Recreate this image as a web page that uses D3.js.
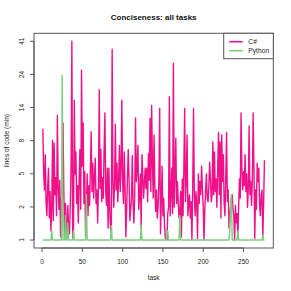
<!DOCTYPE html>
<html>
<head>
<meta charset="utf-8">
<script src="https://cdn.jsdelivr.net/npm/d3@7"></script>
<style>
  body { margin: 0; background: #fff; }
  svg { display: block; font-family: "Liberation Sans", Arial, sans-serif; }
</style>
</head>
<body>
<svg id="mainsvg" width="291" height="291"></svg>
<script>
// lines of code (min) per task
const csharp = [
  10, 4.5, 3.3, 6.4, 2.5, 1.9, 3.5, 5, 1.8, 3.2,
  1.3, 2.2, 8.2, 1.7, 7.8, 3, 4.2, 1.9, 12.5, 3.5,
  2.2, 4, 1.1, 2.8, 1.5, 11, 3.2, 1.2, 2.5, 1.6,
  1.1, 2.4, 1.3, 1.2, 2.3, 5, 41, 1.05, 1.2, 16,
  4.5, 6.7, 2.5, 3.6, 1.6, 4, 7, 2.2, 26, 5.2,
  11, 2.5, 4.7, 1.1, 2.2, 4.5, 1.9, 3.6, 2.4, 5,
  9.5, 3.2, 5.5, 2.8, 4.2, 6, 2.5, 3.3, 1.6, 3.5,
  19, 3.4, 7, 2.6, 4.2, 2.8, 7, 13, 3.2, 2.4,
  5, 1.4, 5, 2.2, 1.4, 1.2, 36, 4, 2.3, 3.8,
  10.8, 3.3, 5.5, 2.6, 4, 7.5, 3.2, 5, 16, 4,
  2.5, 6.7, 3.5, 1.1, 2.2, 4.3, 7, 3.9, 1.7, 2.2,
  2.8, 6.3, 2.4, 1.6, 3, 12, 3.9, 5.2, 7.5, 2.2,
  3, 4.5, 1.4, 6.4, 4.5, 2.8, 3.8, 5, 3.4, 5,
  2.6, 6.5, 4, 11.9, 3.2, 14.7, 5.5, 2.8, 9, 3.5,
  2.1, 3.3, 1.8, 2.3, 4, 14, 1.2, 2.6, 5.2, 1.9,
  2.8, 1.5, 1.05, 1.1, 1, 2, 2.3, 17, 1.9, 3,
  5, 2, 29, 2.3, 4.5, 8.5, 2.5, 3.9, 2.6, 1.8,
  1.9, 3.2, 1.1, 4.1, 1.9, 5, 14, 2.6, 4, 9,
  1.9, 2.5, 3, 1.8, 2.6, 1, 3.5, 14, 3, 1.9,
  3.2, 2.4, 1.05, 4.5, 2.5, 3.9, 3, 5.2, 3.5, 2.3,
  1, 2.2, 3.3, 4.5, 2.8, 2.6, 3.5, 5.6, 4.1, 2.6,
  3, 8, 3, 6.7, 3.2, 4.1, 2.3, 5, 9.4, 3,
  8, 1.8, 9, 3.9, 6.4, 2.5, 1.9, 4.1, 9.4, 2.6,
  3.3, 1.4, 2, 2.3, 2.8, 3, 2.2, 1.9, 1, 2.4,
  1.6, 2, 1.1, 2.3, 4.1, 2.8, 13, 5, 3.3, 4.7,
  3.6, 6.4, 3.2, 4.5, 2.3, 3.4, 10.5, 3, 3.9, 2.4,
  4, 13, 5, 1.05, 3.3, 2.2, 5.5, 3.9, 5, 2.4,
  1.9, 3, 3.3, 1.1, 2.5, 5.8
];

const python = [
  1, 1, 1, 1, 1, 1, 1, 1, 1, 1,  1, 1.3, 1, 1, 1, 1, 1, 1, 1, 1,
  1, 1, 1, 1, 24, 1, 1, 1, 1.9, 1,  1, 1.6, 1, 1, 1, 1, 1, 1, 1.3, 1,
  1, 1, 1, 1, 1, 1, 1, 1, 1, 1,  1, 1, 1, 1, 3, 1, 1, 1, 1, 1,
  1, 1, 1, 1, 1, 1, 1, 1, 1, 1,  1, 1, 1, 1, 1, 1, 1, 1, 1, 1,
  1, 1, 1, 1, 1, 1.5, 1, 1, 1, 1,  1, 1, 1, 1, 1, 1, 1, 1, 1, 1,
  1, 1, 1, 1, 1, 1, 1, 1, 1, 1,  1, 1, 1, 1, 1, 1, 1, 1, 1, 1,
  1, 1, 1.5, 1, 1, 1, 1, 1, 1, 1,  1, 1, 1, 1, 1, 1, 1, 1, 1, 1,
  1, 1, 1, 1, 1, 1, 1, 1, 1, 1,  1, 1, 1, 1, 1.3, 1.3, 1, 1, 1, 1,
  1, 1, 1, 1, 1, 1, 1, 1, 1, 1,  1.9, 1, 1, 1, 1, 1, 1, 1, 1, 1,
  1, 1, 1, 1, 1, 1, 1, 1, 1, 1,  1, 1, 1, 1, 1, 1, 1, 1, 1, 1,
  1, 1, 1, 1, 1, 1, 1, 1, 1, 1,  1, 1, 1, 1, 1, 1, 1, 1, 1, 1,
  1, 1, 1, 1, 1, 1, 1, 1, 1, 1,  1, 1, 1.3, 2.5, 3, 1, 1, 1, 1, 1,
  1, 1, 1.3, 1, 1, 1, 1, 1, 1, 1,  1, 1, 1, 1, 1, 1, 1, 1, 1, 1,
  1, 1, 1, 1, 1, 1, 1, 1, 1, 1,  1, 1, 1, 1.15, 1, 1
];

const xTicks = [0, 50, 100, 150, 200, 250];
const seriesNames = ['C#', 'Python'];
const seriesColors = ['#F0108A', '#7CCD7C'];

var svg = d3.select('#mainsvg'),
    plot = {left: 34, right: 273.3, top: 33.3, bottom: 248};

var n = csharp.length;

// R style: 4% padding round the data range
var xScale = d3.scaleLinear()
    .domain([1 - 0.04 * (n - 1), n + 0.04 * (n - 1)])
    .range([plot.left, plot.right]);

// y is drawn on log(1 + loc)
var all = csharp.concat(python);
var t0 = Math.log1p(d3.min(all)), t1 = Math.log1p(d3.max(all));
var pad = 0.04 * (t1 - t0);
var yScale = d3.scaleSymlog().constant(1)
    .domain([Math.expm1(t0 - pad), Math.expm1(t1 + pad)])
    .range([plot.bottom, plot.top]);
var yTicks = d3.range(7).map(k => Math.expm1(t0 + k * (t1 - t0) / 6));

// Lines
var line = d3.line()
    .x((d, i) => xScale(i + 1))
    .y(d => yScale(d));

[csharp, python].forEach(function (s, k) {
  svg.append('path')
    .datum(s)
    .attr('d', line)
    .attr('fill', 'none')
    .attr('stroke', seriesColors[k])
    .attr('stroke-width', 1.4)
    .attr('stroke-linejoin', 'round');
});

// Box
svg.append('rect')
  .attr('x', plot.left).attr('y', plot.top)
  .attr('width', plot.right - plot.left).attr('height', plot.bottom - plot.top)
  .attr('fill', 'none').attr('stroke', '#555').attr('stroke-width', 1);

// x axis
var xa = svg.append('g').attr('stroke', '#555');
xa.append('line')
  .attr('x1', xScale(xTicks[0])).attr('x2', xScale(xTicks[xTicks.length - 1]))
  .attr('y1', plot.bottom).attr('y2', plot.bottom);
xa.selectAll('.tk').data(xTicks).enter().append('line')
  .attr('x1', d => xScale(d)).attr('x2', d => xScale(d))
  .attr('y1', plot.bottom).attr('y2', plot.bottom + 4);
svg.selectAll('.xl').data(xTicks).enter().append('text')
  .attr('x', d => xScale(d)).attr('y', 264)
  .attr('text-anchor', 'middle').attr('font-size', 6.5).attr('fill', '#222')
  .text(d => d);

// y axis
var ya = svg.append('g').attr('stroke', '#555');
ya.append('line')
  .attr('x1', plot.left).attr('x2', plot.left)
  .attr('y1', yScale(yTicks[0])).attr('y2', yScale(yTicks[yTicks.length - 1]));
ya.selectAll('.tk').data(yTicks).enter().append('line')
  .attr('x1', plot.left).attr('x2', plot.left - 4)
  .attr('y1', d => yScale(d)).attr('y2', d => yScale(d));
svg.selectAll('.yl').data(yTicks).enter().append('text')
  .attr('transform', d => 'translate(24,' + yScale(d) + ') rotate(-90)')
  .attr('text-anchor', 'middle').attr('font-size', 6.5).attr('fill', '#222')
  .text(d => Math.round(d));

// Titles
svg.append('text')
  .attr('x', (plot.left + plot.right) / 2).attr('y', 20)
  .attr('text-anchor', 'middle').attr('font-size', 8).attr('font-weight', 'bold')
  .attr('fill', '#111')
  .text('Conciseness: all tasks');
svg.append('text')
  .attr('x', (plot.left + plot.right) / 2).attr('y', 280)
  .attr('text-anchor', 'middle').attr('font-size', 6.5).attr('fill', '#222')
  .text('task');
svg.append('text')
  .attr('transform', 'translate(8.5,' + (plot.top + plot.bottom) / 2 + ') rotate(-90)')
  .attr('text-anchor', 'middle').attr('font-size', 6.5).attr('fill', '#222')
  .text('lines of code (min)');

// Legend
var lg = svg.append('g');
lg.append('rect')
  .attr('x', 223.7).attr('y', plot.top)
  .attr('width', plot.right - 223.7).attr('height', 25.4)
  .attr('fill', '#fff').attr('stroke', '#555').attr('stroke-width', 1);
seriesNames.forEach(function (name, k) {
  var yy = 41.7 + k * 9;
  lg.append('line')
    .attr('x1', 229.3).attr('x2', 242.7).attr('y1', yy).attr('y2', yy)
    .attr('stroke', seriesColors[k]).attr('stroke-width', 1.6);
  lg.append('text')
    .attr('x', 248.3).attr('y', yy + 2.4)
    .attr('font-size', 6.7).attr('fill', '#222')
    .text(name);
});
</script>
</body>
</html>
